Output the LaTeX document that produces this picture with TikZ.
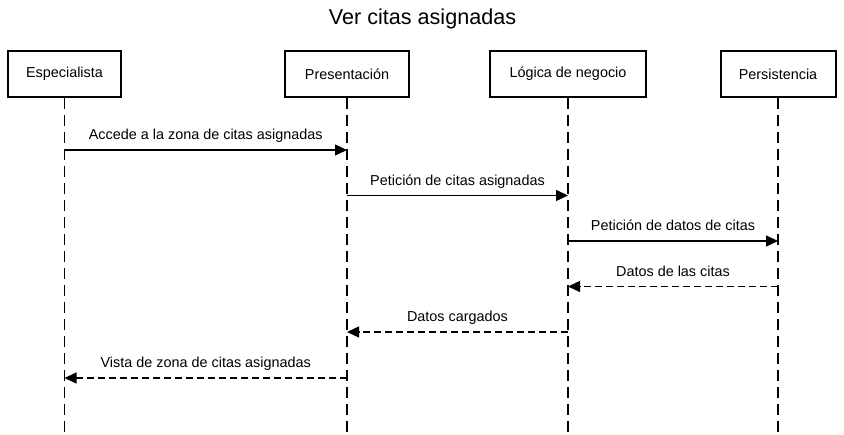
\documentclass[tikz,border=0pt]{standalone}
\usepackage{fontspec}
\setmainfont{Liberation Sans}
\usetikzlibrary{arrows.meta}
\begin{document}
\begin{tikzpicture}[x=1pt,y=-1pt,
    actor/.style={draw, line width=2pt, minimum height=46pt, inner sep=0pt, font=\fontsize{14.4}{17}\selectfont},
    lifeline/.style={line width=1.4pt, dash pattern=on 11pt off 6pt},
    msg/.style={line width=1.3pt, -{Triangle[length=12pt,width=11pt]}},
    reply/.style={msg, dash pattern=on 7pt off 4pt},
    lbl/.style={anchor=base, yshift=10pt, font=\fontsize{14.4}{17}\selectfont}]
    \useasboundingbox (0,0) rectangle (844,435);

    \node[anchor=base, font=\fontsize{21.6}{25}\selectfont] (title) at (422.5,25) {Ver citas asignadas};

    \node[actor, minimum width=113pt] (Esp) at (64.5,74) {Especialista};
    \node[actor, minimum width=124pt] (Pre) at (347,74) {Presentación};
    \node[actor, minimum width=156pt] (Log) at (568,74) {Lógica de negocio};
    \node[actor, minimum width=115pt] (Per) at (778,74) {Persistencia};

    \coordinate (EspEnd) at (64.5,435);
    \coordinate (PreEnd) at (347,435);
    \coordinate (LogEnd) at (568,435);
    \coordinate (PerEnd) at (778,435);

    \coordinate (E1) at (64.5,150);
    \coordinate (P1) at (347,150);
    \coordinate (P2) at (347,195.5);
    \coordinate (L2) at (568,195.5);
    \coordinate (L3) at (568,241);
    \coordinate (D3) at (778,241);
    \coordinate (D4) at (778,286.5);
    \coordinate (L4) at (568,286.5);
    \coordinate (L5) at (568,332);
    \coordinate (P5) at (347,332);
    \coordinate (P6) at (347,378);
    \coordinate (E6) at (64.5,378);

    \draw[lifeline] (Esp.south) -- (EspEnd);
    \draw[lifeline] (Pre.south) -- (PreEnd);
    \draw[lifeline] (Log.south) -- (LogEnd);
    \draw[lifeline] (Per.south) -- (PerEnd);

%messages
    \draw[msg] (E1) -- node[lbl] {Accede a la zona de citas asignadas} (P1);
    \draw[msg] (P2) -- node[lbl] {Petición de citas asignadas} (L2);
    \draw[msg] (L3) -- node[lbl] {Petición de datos de citas} (D3);
    \draw[reply] (D4) -- node[lbl] {Datos de las citas} (L4);
    \draw[reply] (L5) -- node[lbl] {Datos cargados} (P5);
    \draw[reply] (P6) -- node[lbl] {Vista de zona de citas asignadas} (E6);

\end{tikzpicture}
\end{document}
